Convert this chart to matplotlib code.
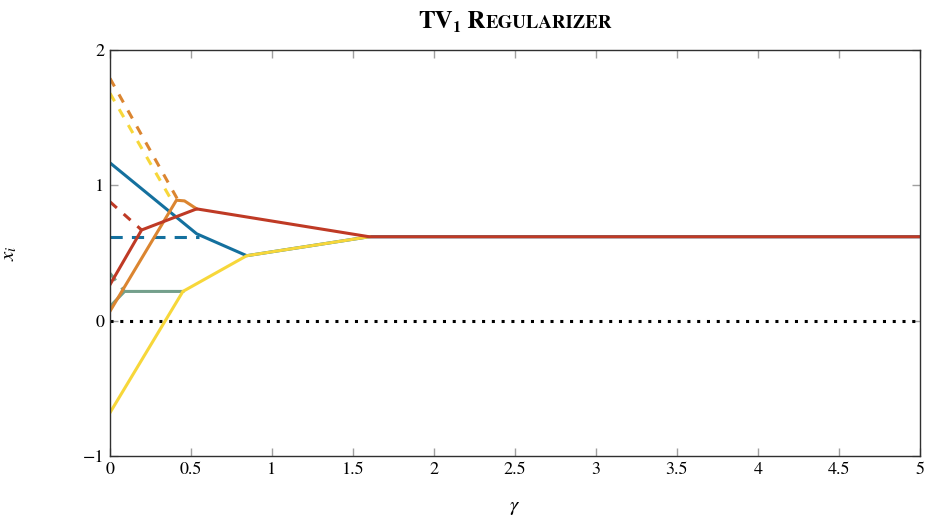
import matplotlib
matplotlib.use("Agg")
import matplotlib.pyplot as plt

plt.rcParams['font.family'] = ['STIXGeneral', 'DejaVu Serif']
plt.rcParams['mathtext.fontset'] = 'stix'

# regularization paths (gamma, x_i)
blue_g = [0, 0.535, 0.844, 1.6, 5]
blue_x = [1.166, 0.642, 0.48, 0.62, 0.62]
red_g = [0, 0.195, 0.535, 1.6, 5]
red_x = [0.266, 0.67, 0.826, 0.62, 0.62]
orange_g = [0, 0.41, 0.46, 0.535]
orange_x = [0.07, 0.89, 0.885, 0.826]
green_g = [0, 0.09, 0.45]
green_x = [0.105, 0.216, 0.216]
yellow_g = [0, 0.45, 0.844, 1.6]
yellow_x = [-0.68, 0.216, 0.48, 0.62]

# dashed segments (fused groups)
blue_dash_g = [0, 0.55]
blue_dash_x = [0.62, 0.62]
red_dash_g = [0, 0.195]
red_dash_x = [0.878, 0.67]
orange_dash_g = [0, 0.42]
orange_dash_x = [1.79, 0.89]
yellow_dash_g = [0, 0.38]
yellow_dash_x = [1.68, 0.89]
green_dash_g = [0, 0.09]
green_dash_x = [0.35, 0.216]

c_blue = '#14709e'
c_red = '#bf3a25'
c_orange = '#db8530'
c_yellow = '#f7d73a'
c_green = '#74a08c'

fig = plt.figure(figsize=(9.25, 5.17), dpi=100)
ax = fig.add_axes([110 / 925, 61 / 517, 810 / 925, 406 / 517])

ax.axhline(0, color='black', lw=2.2, ls=(0, (1, 2.2)))

lw = 2.2
ax.plot(blue_dash_g, blue_dash_x, color=c_blue, lw=lw, ls=(0, (4, 3)))
ax.plot(red_dash_g, red_dash_x, color=c_red, lw=lw, ls=(0, (3, 3)))
ax.plot(orange_dash_g, orange_dash_x, color=c_orange, lw=lw, ls=(0, (3, 3)))
ax.plot(yellow_dash_g, yellow_dash_x, color=c_yellow, lw=lw, ls=(0, (3, 3)))
ax.plot(green_dash_g, green_dash_x, color=c_green, lw=lw, ls=(0, (3, 3)))

ax.plot(green_g, green_x, color=c_green, lw=lw)
ax.plot(blue_g, blue_x, color=c_blue, lw=lw)
ax.plot(yellow_g, yellow_x, color=c_yellow, lw=lw)
ax.plot(orange_g, orange_x, color=c_orange, lw=lw)
ax.plot(red_g, red_x, color=c_red, lw=lw)

ax.set_xlim(0, 5)
ax.set_ylim(-1, 2)
ax.set_xticks([0, 0.5, 1, 1.5, 2, 2.5, 3, 3.5, 4, 4.5, 5])
ax.set_xticklabels(['0', '0.5', '1', '1.5', '2', '2.5', '3', '3.5', '4', '4.5', '5'])
ax.set_yticks([-1, 0, 1, 2])
ax.set_yticklabels(['\u22121', '0', '1', '2'])
ax.tick_params(direction='in', length=6, width=1, color='#a0a0a0',
               top=True, right=True, labelsize=13, pad=4)
for s in ax.spines.values():
    s.set_color('#303030')
    s.set_linewidth(1)

ax.set_xlabel(r'$\gamma$', fontsize=15, labelpad=14)
ax.set_ylabel(r'$x_i$', fontsize=15, labelpad=46)

# small-caps style title drawn piece by piece
fig.canvas.draw()
r = fig.canvas.get_renderer()
pieces = [('TV', 18, 0), ('1', 11.5, -4), (' R', 18, 0), ('EGULARIZER', 13.5, 0)]
texts = []
x = 0
for s, size, dy in pieces:
    t = fig.text(0, 0, s, fontsize=size, fontweight='bold', ha='left', va='baseline')
    w = t.get_window_extent(r).width
    texts.append((t, x, dy))
    x += w
x0 = (ax.get_position().x0 + ax.get_position().x1) / 2 * 925 - x / 2
for t, off, dy in texts:
    t.set_position(((x0 + off) / 925, (517 - 28 + dy) / 517))

fig.savefig('out.png', dpi=100)
